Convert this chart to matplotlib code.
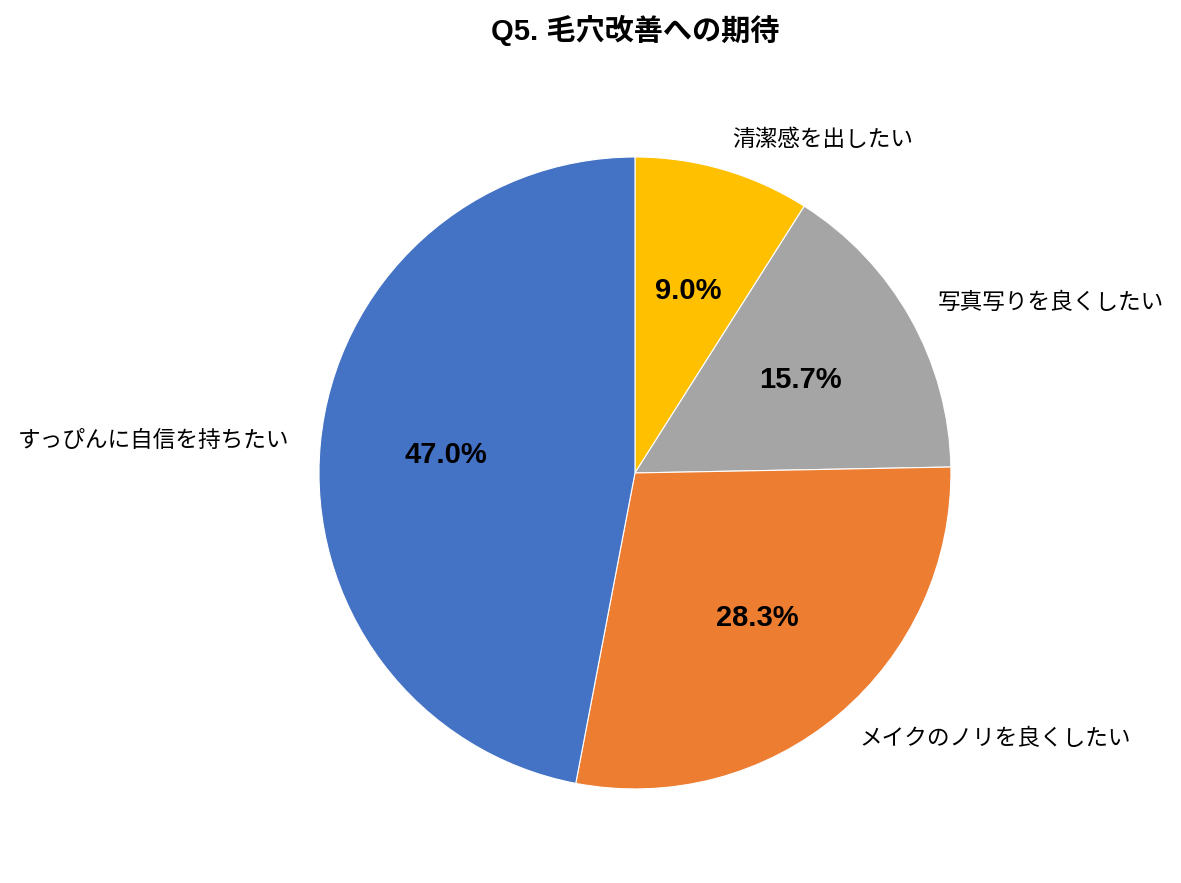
import matplotlib
matplotlib.use("Agg")
import matplotlib.pyplot as plt

plt.rcParams['font.family'] = ['Noto Sans CJK JP', 'DejaVu Sans']

# -------------------------------
# DATA
# -------------------------------
labels = ["清潔感を出したい", "写真写りを良くしたい", "メイクのノリを良くしたい", "すっぴんに自信を持ちたい"]
values = [9.0, 15.7, 28.3, 47.0]
colors = ["#FFC000", "#A5A5A5", "#ED7D31", "#4472C4"]
title = "Q5. 毛穴改善への期待"

# -------------------------------
# PLOT
# -------------------------------
fig = plt.figure(figsize=(11.81, 8.83), dpi=100)
ax = fig.add_axes([0.2701, 0.1065, 0.5351, 0.7157])

wedges, texts, autotexts = ax.pie(
    values,
    labels=labels,
    colors=colors,
    startangle=90,
    counterclock=False,
    autopct="%1.1f%%",
    pctdistance=0.6,
    labeldistance=1.1,
    wedgeprops={"edgecolor": "white", "linewidth": 0.8},
    textprops={"fontsize": 16.3},
)

for t in autotexts:
    t.set_fontsize(21)
    t.set_fontweight("bold")
    t.set_color("black")
    t.set_family(["Liberation Sans", "DejaVu Sans"])

ax.set_xlim(-1, 1)
ax.set_ylim(-1, 1)
ax.set_aspect("equal")

fig.text(0.5377, 0.966, title, ha="center", va="center", fontsize=21,
         fontweight="bold", family=["Liberation Sans", "Noto Sans CJK JP"])

plt.savefig("out.png", dpi=100)
